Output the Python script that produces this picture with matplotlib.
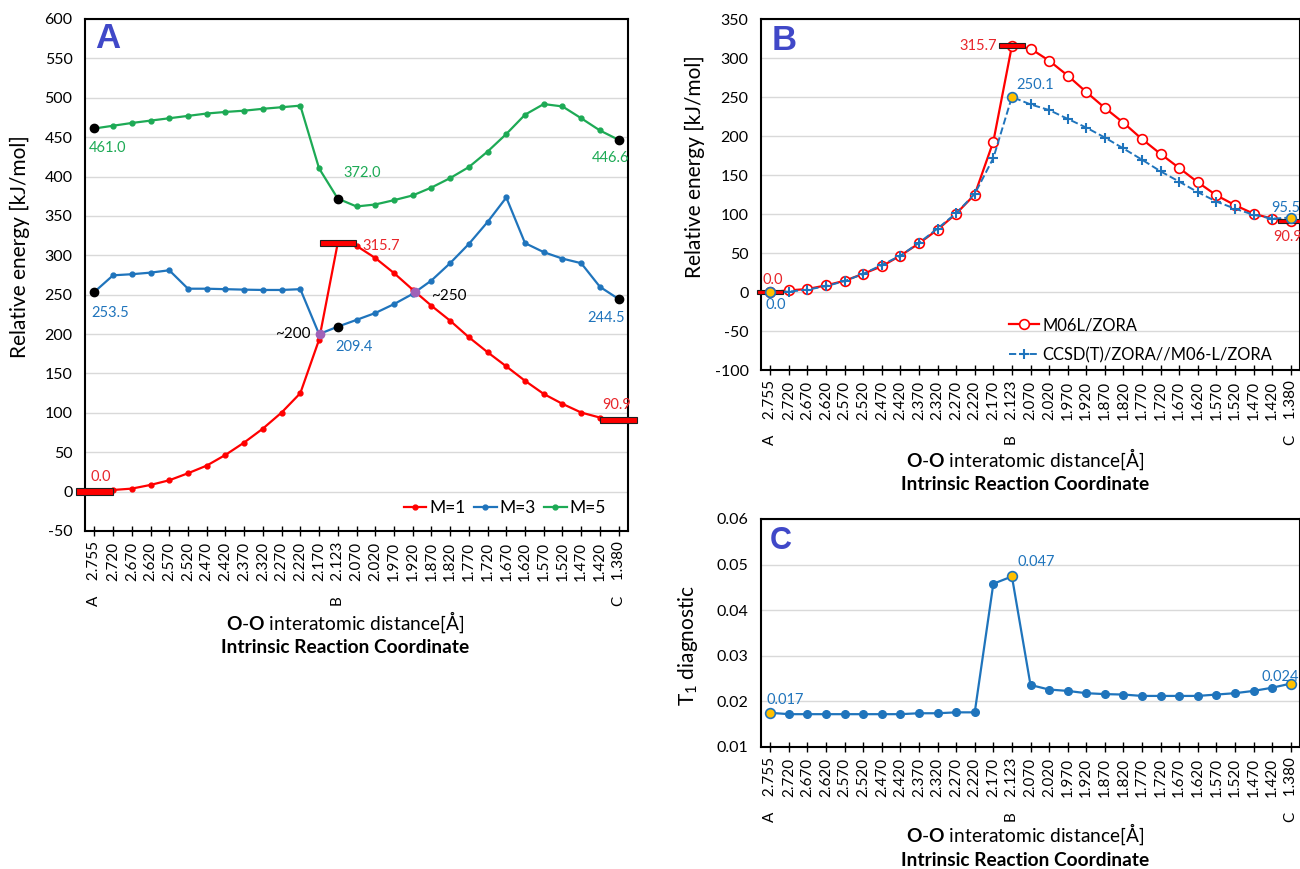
import numpy as np
import matplotlib
matplotlib.use("Agg")
import matplotlib.pyplot as plt
from matplotlib.patches import Rectangle

plt.rcParams['font.family'] = ['Lato', 'DejaVu Sans']
plt.rcParams['mathtext.fontset'] = 'custom'
plt.rcParams['mathtext.rm'] = 'Lato'
plt.rcParams['mathtext.bf'] = 'Lato:bold'

# IRC points (O-O distance) and the named stationary points
distances = ['2.755', '2.720', '2.670', '2.620', '2.570', '2.520', '2.470', '2.420',
             '2.370', '2.320', '2.270', '2.220', '2.170', '2.123', '2.070', '2.020',
             '1.970', '1.920', '1.870', '1.820', '1.770', '1.720', '1.670', '1.620',
             '1.570', '1.520', '1.470', '1.420', '1.380']
point_names = ['A', '', '', '', '', '', '', '', '', '', '', '', '', 'B', '', '',
               '', '', '', '', '', '', '', '', '', '', '', '', 'C']
key_idx = [0, 13, 28]

# panel A: relative energies for the three multiplicities [kJ/mol]
m1 = [0.0, 2.1, 3.8, 8.5, 14.4, 23.3, 33.0, 46.6, 62.3, 80.0, 100.4, 125.0, 192.8,
      315.7, 312.0, 296.6, 277.5, 256.4, 236.0, 217.0, 196.0, 177.0, 159.0, 140.7,
      124.0, 111.4, 100.4, 94.0, 90.9]
m3 = [253.5, 274.6, 276.0, 278.0, 281.0, 257.6, 257.6, 257.0, 256.4, 256.0, 256.0,
      257.0, 200.0, 209.4, 218.0, 226.7, 238.0, 251.0, 268.0, 290.0, 314.4, 342.3,
      373.4, 315.5, 304.0, 295.8, 290.0, 260.0, 244.5]
m5 = [461.0, 464.5, 468.0, 471.0, 474.0, 477.0, 480.0, 482.0, 483.6, 486.0, 488.0,
      490.0, 410.4, 372.0, 362.0, 364.5, 370.0, 376.0, 386.0, 398.0, 412.0, 431.7,
      454.0, 478.5, 492.0, 489.0, 474.0, 458.5, 446.6]
# crossing points of M=1 and M=3
cross_x = [12.05, 17.15]
cross_y = [200.0, 253.0]
cross_text = ['~200', '~250']

# panel B: M06-L vs CCSD(T) single points
m06l = m1
ccsd = [0.0, 0.5, 3.0, 7.5, 14.0, 23.3, 34.7, 46.6, 63.0, 81.4, 101.0, 125.8, 171.7,
        250.1, 240.5, 233.3, 222.0, 210.8, 198.0, 184.0, 169.6, 154.7, 141.5, 128.0,
        116.0, 106.8, 99.0, 94.0, 95.5]

# panel C: T1 diagnostic
t1 = [0.0175, 0.0172, 0.0172, 0.0172, 0.0172, 0.0172, 0.0172, 0.0172, 0.0174,
      0.0174, 0.0176, 0.0176, 0.0458, 0.0474, 0.0236, 0.0226, 0.0223, 0.0218,
      0.0216, 0.0215, 0.0212, 0.0212, 0.0212, 0.0212, 0.0215, 0.0218, 0.0223,
      0.0230, 0.0239]

RED = '#FF0000'
RED_TXT = '#E8262B'
BLUE = '#1F74BC'
GREEN = '#1DAA55'
PURPLE = '#A062B8'
GOLD = '#FFC000'
LETTER = '#4048C8'
GRID = '#D9D9D9'

tick_labels = [(n + '    ' + d) if n else d for n, d in zip(point_names, distances)]
x = np.arange(len(distances))

fig = plt.figure(figsize=(13, 8.69), dpi=100)


def style_axes(ax, ylim, yticks, ylabel, ylab_pos, yfmt='{:g}'):
    ax.set_xlim(-0.5, len(distances) - 0.5)
    ax.set_ylim(*ylim)
    ax.set_yticks(yticks)
    ax.set_yticklabels([yfmt.format(v) for v in yticks])
    ax.set_xticks(x)
    ax.set_xticklabels(tick_labels, rotation=90, fontsize=11)
    ax.tick_params(axis='x', direction='inout', length=7, width=1, pad=4)
    ax.tick_params(axis='y', length=0, pad=9, labelsize=11.5)
    ax.grid(axis='y', color=GRID, lw=1)
    ax.set_axisbelow(True)
    for s in ax.spines.values():
        s.set_linewidth(1.5)
    ax.set_ylabel(ylabel, fontsize=15)
    ax.yaxis.set_label_coords(*ylab_pos)


def add_xlabels(ax, xc, y1, y2):
    ax.text(xc, y1, r'$\mathbf{O}$-$\mathbf{O}$ interatomic distance[Å]',
            transform=ax.transAxes, ha='center', va='center', fontsize=13.8)
    ax.text(xc, y2, 'Intrinsic Reaction Coordinate', transform=ax.transAxes,
            ha='center', va='center', fontsize=13.8, fontweight='bold')


def red_bars(ax, vals, width, height):
    for i in key_idx:
        ax.add_patch(Rectangle((i - width / 2, vals[i] - height / 2), width, height,
                               facecolor=RED, edgecolor='#202020', lw=0.8,
                               zorder=6, clip_on=False))


def label(ax, i, v, txt, color, dx, dy, ha='left', size=10.5):
    ax.annotate(txt, (i, v), xytext=(dx, dy), textcoords='offset pixels',
                ha=ha, va='center', color=color, fontsize=size, zorder=8,
                annotation_clip=False)


# ---------------- panel A ----------------
axA = fig.add_axes([85 / 1300, 1 - 531 / 869, 543 / 1300, 512 / 869])
style_axes(axA, (-50, 600), np.arange(-50, 601, 50), 'Relative energy [kJ/mol]',
           (-0.101, 0.555))
axA.plot(x, m1, '-o', color=RED, lw=1.6, ms=3.5, label='M=1', zorder=3)
axA.plot(x, m3, '-o', color=BLUE, lw=1.6, ms=3.5, label='M=3', zorder=3)
axA.plot(x, m5, '-o', color=GREEN, lw=1.6, ms=3.5, label='M=5', zorder=3)
for series in (m3, m5):
    axA.plot(x[key_idx], np.array(series)[key_idx], 'o', color='black', ms=6, zorder=5)
axA.plot(cross_x, cross_y, 'o', color=PURPLE, ms=6, zorder=5)
red_bars(axA, m1, 1.95, 8)

label(axA, 0, m5[0], '461.0', GREEN, -6, -20)
label(axA, 13, m5[13], '372.0', GREEN, 6, 26)
label(axA, 28, m5[28], '446.6', GREEN, -27, -18)
label(axA, 0, m3[0], '253.5', BLUE, -3, -21)
label(axA, 13, m3[13], '209.4', BLUE, -2, -20)
label(axA, 28, m3[28], '244.5', BLUE, 6, -19, ha='right')
label(axA, 13, m1[13], '315.7', RED_TXT, 25, -3)
label(axA, 0, m1[0], '0.0', RED_TXT, -4, 15)
label(axA, 28, m1[28], '90.9', RED_TXT, -2, 15, ha='center')
label(axA, cross_x[0], cross_y[0], cross_text[0], 'black', -9, 0, ha='right', size=11)
label(axA, cross_x[1], cross_y[1], cross_text[1], 'black', 16, -4, size=11)

axA.text(0.018, 0.995, 'A', transform=axA.transAxes, ha='left', va='top',
         fontsize=25, fontweight='bold', color=LETTER, family='Liberation Sans')
axA.legend(loc='center right', bbox_to_anchor=(0.975, 0.045), ncol=3, frameon=False,
           fontsize=12.5, handlelength=1.3, handletextpad=0.15, columnspacing=0.5,
           borderpad=0)
add_xlabels(axA, 0.479, -0.178, -0.227)

# ---------------- panel B ----------------
axB = fig.add_axes([761 / 1300, 1 - 370 / 869, 539 / 1300, 351 / 869])
style_axes(axB, (-100, 350), np.arange(-100, 351, 50), 'Relative energy [kJ/mol]',
           (-0.104, 0.578))
axB.plot(x, m06l, '-o', color=RED, lw=1.6, ms=7, mfc='white', mec=RED, mew=1.2,
         label='M06L/ZORA', zorder=3)
axB.plot(x, ccsd, '--+', color=BLUE, lw=1.4, ms=7, mew=1.5,
         label='CCSD(T)/ZORA//M06-L/ZORA', zorder=4)
axB.plot(x[key_idx], np.array(ccsd)[key_idx], 'o', color=GOLD, mec=BLUE, mew=1.2,
         ms=7, zorder=7)
red_bars(axB, m06l, 1.4, 6)

label(axB, 0, m06l[0], '0.0', RED_TXT, -8, 12)
label(axB, 0, ccsd[0], '0.0', BLUE, -5, -13)
label(axB, 13, m06l[13], '315.7', RED_TXT, -15, 0, ha='right')
label(axB, 13, ccsd[13], '250.1', BLUE, 4, 12)
label(axB, 28, ccsd[28], '95.5', BLUE, -19, 10)
label(axB, 28, m06l[28], '90.9', RED_TXT, -17, -16)

axB.text(0.02, 0.985, 'B', transform=axB.transAxes, ha='left', va='top',
         fontsize=25, fontweight='bold', color=LETTER, family='Liberation Sans')
axB.legend(loc='center left', bbox_to_anchor=(0.445, 0.085), frameon=False,
           fontsize=11.9, handlelength=1.8, handletextpad=0.2, labelspacing=0.85,
           borderpad=0)
add_xlabels(axB, 0.49, -0.254, -0.326)

# ---------------- panel C ----------------
axC = fig.add_axes([761 / 1300, 1 - 747 / 869, 539 / 1300, 228 / 869])
style_axes(axC, (0.01, 0.06), np.arange(0.01, 0.0601, 0.01),
           r'T$_\mathregular{1}$ diagnostic', (-0.113, 0.447), yfmt='{:.2f}')
axC.plot(x, t1, '-o', color=BLUE, lw=1.6, ms=5.5, zorder=3)
axC.plot(x[key_idx], np.array(t1)[key_idx], 'o', color=GOLD, mec=BLUE, mew=1.2,
         ms=7, zorder=5)
label(axC, 0, t1[0], '0.017', BLUE, -4, 13)
label(axC, 13, t1[13], '0.047', BLUE, 6, 14)
label(axC, 28, t1[28], '0.024', BLUE, -29, 7)

axC.text(0.017, 0.97, 'C', transform=axC.transAxes, ha='left', va='top',
         fontsize=22, fontweight='bold', color=LETTER, family='Liberation Sans')
add_xlabels(axC, 0.49, -0.383, -0.497)

fig.savefig('out.png', dpi=100)
